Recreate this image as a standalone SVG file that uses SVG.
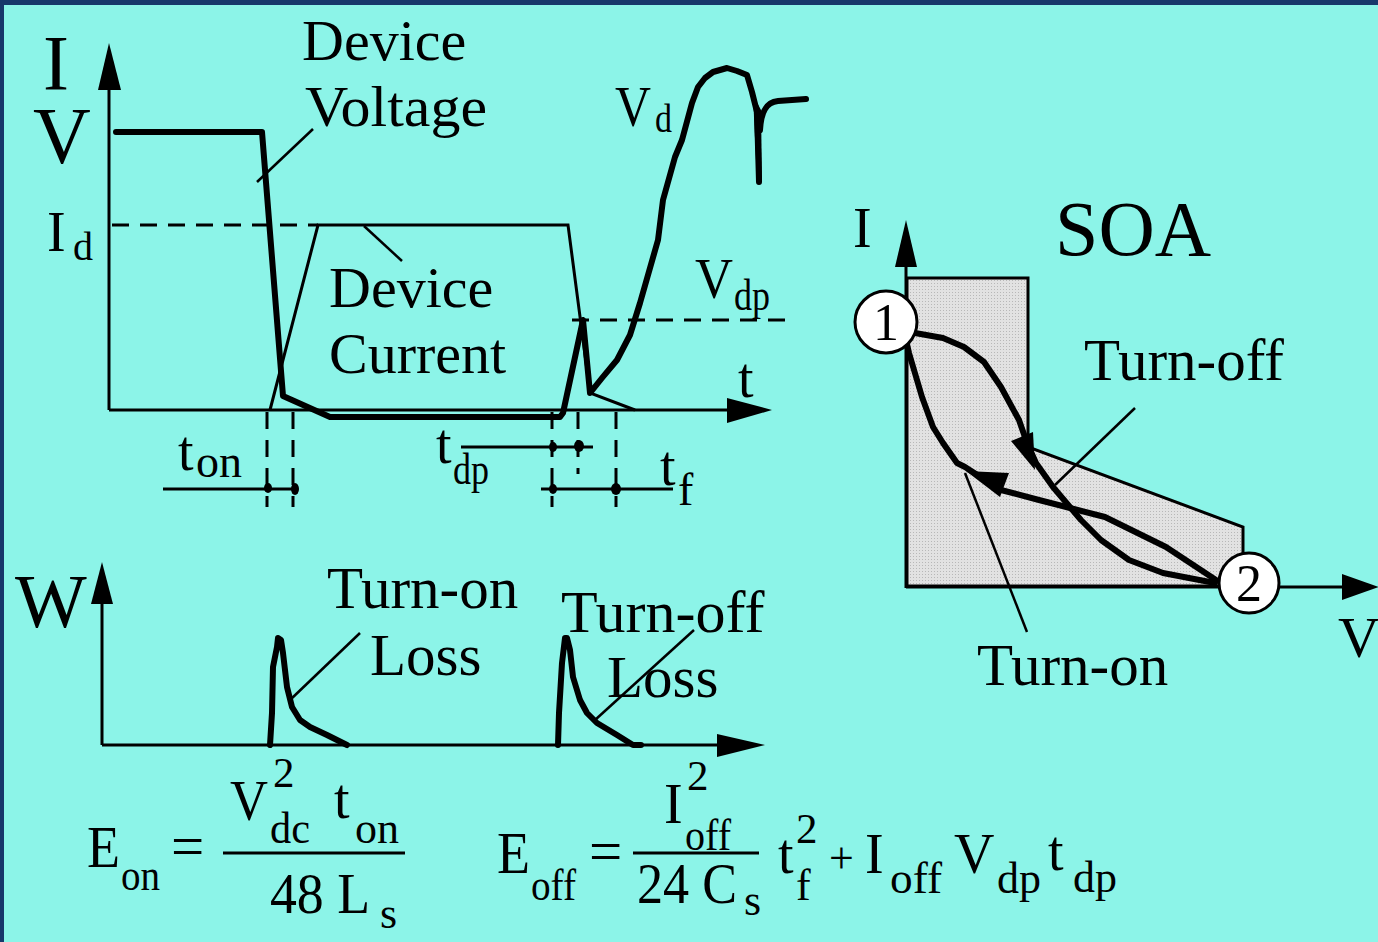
<svg xmlns="http://www.w3.org/2000/svg" width="1378" height="942" viewBox="0 0 1378 942">
<defs>
<style>
.t{font-family:"Liberation Serif","Times New Roman",serif;fill:#000}
.thin{stroke:#000;stroke-width:3;fill:none}
.thick{stroke:#000;stroke-width:6;fill:none;stroke-linejoin:round;stroke-linecap:round}
.dash{stroke:#000;stroke-width:3;stroke-dasharray:17 11;fill:none}
.lead{stroke:#000;stroke-width:2.5;fill:none}
.ah{fill:#000}
.dot{fill:#000}
</style>
<pattern id="stip" width="3" height="3" patternUnits="userSpaceOnUse">
<rect width="3" height="3" fill="#e2e2e2"/>
<rect x="1" y="1" width="1" height="1" fill="#b8b8b8"/>
</pattern>
</defs>
<rect x="0" y="0" width="1378" height="942" fill="#8cf4e8"/>
<rect x="0" y="0" width="1378" height="5" fill="#17386a"/>
<rect x="0" y="0" width="4" height="942" fill="#17386a"/>

<g id="top-graph">
<line class="thin" x1="109" y1="410" x2="109" y2="85"/>
<polygon class="ah" points="109,43 98,90 121,90"/>
<line class="thin" x1="109" y1="410" x2="730" y2="410"/>
<polygon class="ah" points="772,410 727,398 727,423"/>
<text class="t" x="43" y="89" font-size="78">I</text>
<text class="t" x="33" y="163" font-size="80">V</text>
<text class="t" x="47" y="251" font-size="56">I</text>
<text class="t" x="73" y="260" font-size="40">d</text>
<line class="dash" x1="112" y1="225" x2="318" y2="225"/>
<polyline class="thin" points="270,410 318,225 568,225 590,393 635,410"/>
<polyline class="thick" points="116,132 262,132 283,396 330,417 560,417 563,413 583,320 590,393 602,378 617,360 630,335 640,303 658,240 663,200 675,157 682,140 692,103 698,87 705,78 713,72 727,68 737,71 747,75 752,92 757,112 759,182"/>
<path d="M753,95 L761,110 L762,182 L757,182 Z" fill="#000"/>
<path class="thick" d="M760,130 C761,112 766,102 778,101 L806,99" stroke-width="5"/>
<line class="dash" x1="572" y1="320" x2="788" y2="320"/>
<text class="t" x="302" y="60" font-size="58">Device</text>
<text class="t" x="305" y="126" font-size="58" textLength="182" lengthAdjust="spacingAndGlyphs">Voltage</text>
<text class="t" x="329" y="307" font-size="58">Device</text>
<text class="t" x="329" y="373" font-size="58">Current</text>
<text class="t" x="615" y="126" font-size="56" textLength="36" lengthAdjust="spacingAndGlyphs">V</text>
<text class="t" x="655" y="132" font-size="40" textLength="17" lengthAdjust="spacingAndGlyphs">d</text>
<text class="t" x="695" y="298" font-size="58" textLength="38" lengthAdjust="spacingAndGlyphs">V</text>
<text class="t" x="734" y="310" font-size="44" textLength="36" lengthAdjust="spacingAndGlyphs">dp</text>
<text class="t" x="738" y="397" font-size="56">t</text>
</g>

<g id="timing">
<line class="dash" x1="267" y1="412" x2="267" y2="507" stroke-dasharray="14 9"/>
<line class="dash" x1="293" y1="412" x2="293" y2="507" stroke-dasharray="14 9"/>
<line class="dash" x1="552" y1="412" x2="552" y2="507" stroke-dasharray="14 9"/>
<line class="dash" x1="578" y1="412" x2="578" y2="474" stroke-dasharray="14 9"/>
<line class="dash" x1="616" y1="412" x2="616" y2="507" stroke-dasharray="14 9"/>
<line class="thin" x1="163" y1="489" x2="296" y2="489"/>
<line class="thin" x1="461" y1="447" x2="593" y2="447"/>
<line class="thin" x1="541" y1="489" x2="673" y2="489"/>
<ellipse class="dot" cx="268" cy="488" rx="4" ry="5"/>
<ellipse class="dot" cx="295" cy="489" rx="4" ry="6"/>
<ellipse class="dot" cx="553" cy="447" rx="4" ry="5"/>
<ellipse class="dot" cx="579" cy="446" rx="5" ry="6"/>
<ellipse class="dot" cx="553" cy="489" rx="4" ry="5"/>
<ellipse class="dot" cx="616" cy="489" rx="5" ry="6"/>
<text class="t" x="178" y="470" font-size="56">t</text>
<text class="t" x="196" y="477" font-size="46">on</text>
<text class="t" x="436" y="463" font-size="56">t</text>
<text class="t" x="453" y="484" font-size="44" textLength="36" lengthAdjust="spacingAndGlyphs">dp</text>
<text class="t" x="660" y="485" font-size="56">t</text>
<text class="t" x="678" y="505" font-size="46">f</text>
</g>

<g id="w-graph">
<line class="thin" x1="102" y1="745" x2="102" y2="600"/>
<polygon class="ah" points="102,562 91,604 113,604"/>
<line class="thin" x1="102" y1="745" x2="720" y2="745"/>
<polygon class="ah" points="765,745 717,734 717,757"/>
<text class="t" x="15" y="627" font-size="76">W</text>
<polyline class="thick" points="270,745 272,713 273,667 277,647 278,638 281,640 283,653 287,687 292,707 300,720 310,727 327,735 347,745"/>
<polyline class="thick" points="558,745 559,713 562,663 565,638 567,638 570,650 573,677 580,700 587,713 597,723 617,735 633,745 641,745"/>
<text class="t" x="327" y="608" font-size="59">Turn-on</text>
<text class="t" x="370" y="675" font-size="59">Loss</text>
<text class="t" x="561" y="632" font-size="60">Turn-off</text>
<text class="t" x="607" y="697" font-size="59">Loss</text>
</g>

<g id="soa">
<path d="M907,278 L1028,278 L1028,447 L1243,527 L1243,586 L907,586 Z" fill="url(#stip)" stroke="#000" stroke-width="3"/>
<line class="thin" x1="906" y1="588" x2="906" y2="262" stroke-width="4"/>
<polygon class="ah" points="906,220 895,267 917,267"/>
<line class="thin" x1="906" y1="587" x2="1345" y2="587" stroke-width="4"/>
<polygon class="ah" points="1379,587 1342,574 1342,600"/>
<polyline class="thick" points="915,333 943,338 964,347 984,362 1001,387 1019,420 1027,443 1036,463 1053,487 1081,520 1101,540 1129,560 1163,573 1215,583"/>
<polygon class="ah" points="1035,470 1011,441 1033,432"/>
<polyline class="thick" points="1216,580 1166,547 1105,517 1070,508 1039,500 1001,490 965,467 957,463 943,443 933,427 922,397 909,353 906,340"/>
<polygon class="ah" points="966,471 1009,473 1000,497"/>
<circle cx="886" cy="322" r="31" fill="#fff" stroke="#000" stroke-width="3"/>
<text class="t" x="886" y="340" font-size="52" text-anchor="middle">1</text>
<circle cx="1249" cy="583" r="30" fill="#fff" stroke="#000" stroke-width="3"/>
<text class="t" x="1249" y="601" font-size="52" text-anchor="middle">2</text>
<text class="t" x="853" y="247" font-size="56">I</text>
<text class="t" x="1055" y="255" font-size="78">SOA</text>
<text class="t" x="1084" y="380" font-size="59">Turn-off</text>
<text class="t" x="977" y="685" font-size="59">Turn-on</text>
<text class="t" x="1338" y="657" font-size="58">V</text>
</g>

<g id="connectors">
<line class="lead" x1="313" y1="129" x2="257" y2="182"/>
<line class="lead" x1="364" y1="226" x2="402" y2="261"/>
<line class="lead" x1="290" y1="700" x2="360" y2="633"/>
<line class="lead" x1="595" y1="720" x2="694" y2="630"/>
<line class="lead" x1="1135" y1="408" x2="1055" y2="485"/>
<line class="lead" x1="965" y1="473" x2="1027" y2="632"/>
</g>

<g id="formula-on">
<text class="t" x="87" y="867" font-size="59" textLength="33" lengthAdjust="spacingAndGlyphs">E</text>
<text class="t" x="121" y="890" font-size="44" textLength="39" lengthAdjust="spacingAndGlyphs">on</text>
<text class="t" x="171" y="866" font-size="59">=</text>
<line class="thin" x1="223" y1="853" x2="405" y2="853"/>
<text class="t" x="230" y="820" font-size="56" textLength="38" lengthAdjust="spacingAndGlyphs">V</text>
<text class="t" x="273" y="787" font-size="43">2</text>
<text class="t" x="270" y="843" font-size="44" textLength="40" lengthAdjust="spacingAndGlyphs">dc</text>
<text class="t" x="334" y="818" font-size="56">t</text>
<text class="t" x="355" y="843" font-size="44">on</text>
<text class="t" x="270" y="913" font-size="56" textLength="100" lengthAdjust="spacingAndGlyphs">48 L</text>
<text class="t" x="380" y="928" font-size="44">s</text>
</g>

<g id="formula-off">
<text class="t" x="497" y="873" font-size="59" textLength="33" lengthAdjust="spacingAndGlyphs">E</text>
<text class="t" x="531" y="900" font-size="44" textLength="45" lengthAdjust="spacingAndGlyphs">off</text>
<text class="t" x="589" y="871" font-size="59">=</text>
<line class="thin" x1="633" y1="853" x2="759" y2="853"/>
<text class="t" x="664" y="823" font-size="56">I</text>
<text class="t" x="687" y="790" font-size="43">2</text>
<text class="t" x="685" y="850" font-size="44" textLength="46" lengthAdjust="spacingAndGlyphs">off</text>
<text class="t" x="637" y="903" font-size="56" textLength="100" lengthAdjust="spacingAndGlyphs">24 C</text>
<text class="t" x="744" y="915" font-size="44">s</text>
<text class="t" x="778" y="873" font-size="56">t</text>
<text class="t" x="796" y="843" font-size="43">2</text>
<text class="t" x="796" y="900" font-size="44">f</text>
<text class="t" x="829" y="873" font-size="44">+</text>
<text class="t" x="865" y="873" font-size="56">I</text>
<text class="t" x="890" y="893" font-size="44" textLength="52" lengthAdjust="spacingAndGlyphs">off</text>
<text class="t" x="954" y="873" font-size="56">V</text>
<text class="t" x="997" y="893" font-size="44">dp</text>
<text class="t" x="1048" y="870" font-size="56">t</text>
<text class="t" x="1073" y="892" font-size="44">dp</text>
</g>
</svg>
